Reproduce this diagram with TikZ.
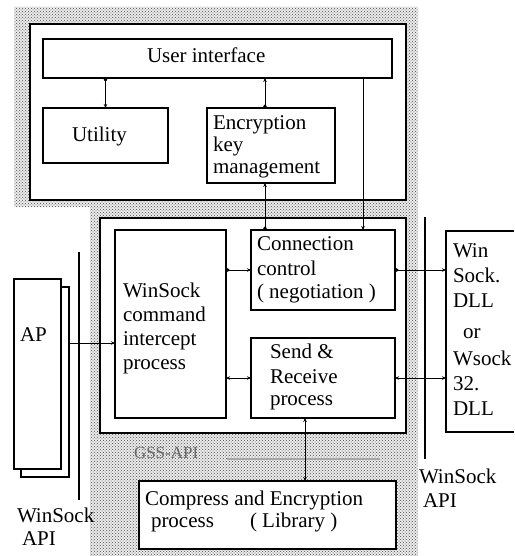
\documentclass[tikz,border=0pt]{standalone}
\usepackage{fontspec}
\setmainfont{Liberation Serif}
\usetikzlibrary{arrows.meta,patterns}
\begin{document}
\begin{tikzpicture}[x=1pt,y=-1pt,
  box/.style={draw,line width=1.2pt,fill=white,rectangle,anchor=north west,inner sep=0pt,outer sep=0pt},
  framebox/.style={draw,line width=2pt,fill=white,rectangle,anchor=north west,inner sep=0pt,outer sep=0pt},
  txt/.style={anchor=base west,inner sep=0pt,outer sep=0pt,font=\fontsize{21}{24}\selectfont},
  link/.style={line width=0.9pt},
  dotarr/.style={link,arrows={Circle[length=3.5pt]-Stealth[length=4pt,width=3.5pt]}},
  arrdot/.style={link,arrows={Stealth[length=4pt,width=3.5pt]-Circle[length=3.5pt]}},
  twoarr/.style={link,arrows={Stealth[length=4pt,width=3.5pt]-Stealth[length=4pt,width=3.5pt]}},
  tickarr/.style={link,arrows={Bar[width=3pt]-Stealth[length=4pt,width=3.5pt]}},
  apiline/.style={line width=1.2pt}
]
% page
\fill[white] (0,0) rectangle (514,556);
\useasboundingbox (0,0) rectangle (514,556);

% dotted background region
\path[fill=black!8,postaction={pattern=crosshatch dots,pattern color=black!70}]
  (14,7) -- (418,7) -- (418,556) -- (90,556) -- (90,207) -- (14,207) -- cycle;

% frames
\node[framebox,minimum width=376,minimum height=176] (upper) at (30,24) {};
\node[framebox,minimum width=306,minimum height=215] (lower) at (100,218) {};

% boxes in upper frame
\node[box,minimum width=349,minimum height=39] (ui) at (43,39) {};
\node[box,minimum width=125,minimum height=55] (util) at (43,108) {};
\node[box,minimum width=128,minimum height=75] (enc) at (207,108) {};

% boxes in lower frame
\node[box,minimum width=111,minimum height=188] (wci) at (115,230) {};
\node[box,minimum width=144,minimum height=80] (cc) at (251,230) {};
\node[box,minimum width=144,minimum height=80] (sr) at (251,338) {};

% compress box
\node[box,minimum width=257,minimum height=68] (comp) at (139,481) {};

% AP (stacked pages)
\node[box,minimum width=48,minimum height=190] (apback) at (21,287) {};
\node[box,minimum width=47,minimum height=190] (ap) at (14,279) {};

% DLL box (runs off the right edge)
\node[rectangle,anchor=north west,inner sep=0pt,outer sep=0pt,minimum width=68,minimum height=201] (dll) at (446,231) {};
\draw[line width=1.2pt] (dll.north east) -- (dll.north west) -- (dll.south west) -- (dll.south east);

% WinSock API lines
\coordinate (lapiT) at (79,252);
\coordinate (lapiB) at (79,500);
\coordinate (rapiT) at (425,217);
\coordinate (rapiB) at (425,459);
\draw[apiline] (lapiT) -- (lapiB);
\draw[apiline] (rapiT) -- (rapiB);

% GSS-API line
\coordinate (gssA) at (227,459);
\coordinate (gssB) at (380,459);
\draw[line width=2pt,black!35] (gssA) -- (gssB);

% texts
\node[txt] (tui) at (147,63) {User interface};
\node[txt] (tutil) at (72,142) {Utility};
\node[txt] (tenc1) at (213,130) {Encryption};
\node[txt] (tenc2) at (213,152) {key};
\node[txt] (tenc3) at (213,173) {management};
\node[txt] (tcc1) at (257,250) {Connection};
\node[txt] (tcc2) at (257,275) {control};
\node[txt] (tcc3) at (257,298) {( negotiation )};
\node[txt] (twci1) at (123,297) {WinSock};
\node[txt] (twci2) at (123,321) {command};
\node[txt] (twci3) at (123,345) {intercept};
\node[txt] (twci4) at (123,369) {process};
\node[txt] (tsr1) at (270,358) {Send \&};
\node[txt] (tsr2) at (270,383) {Receive};
\node[txt] (tsr3) at (270,405) {process};
\node[txt] (tap) at (20,341) {AP};
\node[txt] (tdll1) at (453,257) {Win};
\node[txt] (tdll2) at (453,282) {Sock.};
\node[txt] (tdll3) at (453,307) {DLL};
\node[txt] (tdll4) at (463,338) {or};
\node[txt] (tdll5) at (453,365) {Wsock};
\node[txt] (tdll6) at (453,390) {32.};
\node[txt] (tdll7) at (453,415) {DLL};
\node[txt,font=\fontsize{17}{20}\selectfont,text=black!60] (tgss) at (134,458) {GSS-API};
\node[txt] (tcomp1) at (145,505) {Compress and Encryption};
\node[txt] (tcomp2) at (151,527) {process};
\node[txt] (tcomp3) at (250,527) {( Library )};
\node[txt] (trapi1) at (419,483) {WinSock};
\node[txt] (trapi2) at (423,507) {API};
\node[txt] (tlapi1) at (17,522) {WinSock};
\node[txt] (tlapi2) at (22,545) {API};

% connectors
\coordinate (kui) at (363,0);
\coordinate (ksr) at (305,0);
\coordinate (kap) at (0,343);
\draw[dotarr] (ui.south -| util.north) -- (util.north);
\draw[arrdot] (ui.south -| 265,0) -- (enc.north -| 265,0);
\draw[arrdot] (enc.south -| 265,0) -- (cc.north -| 265,0);
\draw[tickarr] (ui.south -| kui) -- (cc.north -| kui);
\draw[tickarr] (apback.east |- kap) -- (wci.west |- kap);
\draw[dotarr] (wci.east |- cc.west) -- (cc.west);
\draw[twoarr] (wci.east |- sr.west) -- (sr.west);
\draw[dotarr] (cc.east) -- (cc.east -| dll.west);
\draw[twoarr] (sr.east) -- (sr.east -| dll.west);
\draw[twoarr] (sr.south -| ksr) -- (comp.north -| ksr);
\end{tikzpicture}
\end{document}
